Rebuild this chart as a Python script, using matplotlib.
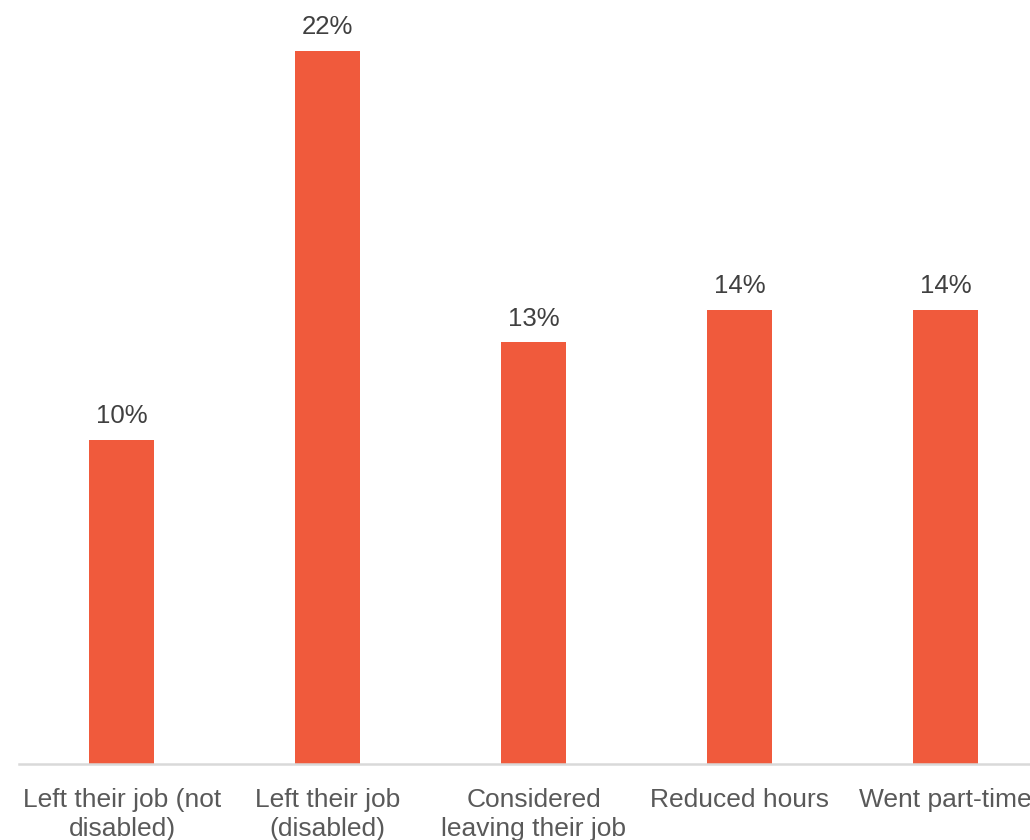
import matplotlib.pyplot as plt

plt.rcParams['font.family'] = ['Liberation Sans', 'DejaVu Sans']

categories = ['Left their job (not\ndisabled)', 'Left their job\n(disabled)',
              'Considered\nleaving their job', 'Reduced hours', 'Went part-time']
values = [10, 22, 13, 14, 14]

fig = plt.figure(figsize=(10.30, 8.40), dpi=100)
# axes runs off the right edge, as in the original export
ax = fig.add_axes([19 / 1030, 76 / 840, 1029.5 / 1030, 764 / 840])

x = range(len(values))
bars = ax.bar(x, values, width=0.316, color='#F05A3C', zorder=2)

for b, v in zip(bars, values):
    ax.text(b.get_x() + b.get_width() / 2, v + 0.36, f'{v}%',
            ha='center', va='bottom', fontsize=18.5, color='#404040')

ax.set_xlim(-0.5, 4.5)
ax.set_ylim(0, 23.56)
ax.set_xticks(list(x))
ax.set_xticklabels(categories, fontsize=19, color='#595959', linespacing=1.28)
ax.tick_params(axis='x', length=0, pad=17)
ax.set_yticks([])

for s in ['top', 'right', 'left']:
    ax.spines[s].set_visible(False)
ax.spines['bottom'].set_color('#D9D9D9')
ax.spines['bottom'].set_linewidth(1.8)

fig.savefig('out.png', dpi=100)
